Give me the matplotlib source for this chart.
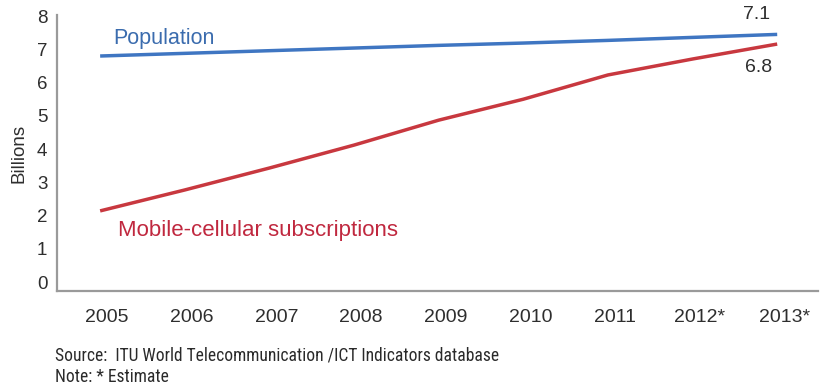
import matplotlib
matplotlib.use("Agg")
import matplotlib.pyplot as plt
import matplotlib.transforms as mtransforms
from matplotlib import font_manager

installed = {f.name for f in font_manager.fontManager.ttflist}

def pick(names):
    return [n for n in names if n in installed] + ['DejaVu Sans']

plt.rcParams['font.family'] = pick(['Liberation Sans', 'Arimo'])

# values (billions)
years = [2005, 2006, 2007, 2008, 2009, 2010, 2011, 2012, 2013]
year_labels = ['2005', '2006', '2007', '2008', '2009', '2010', '2011', '2012*', '2013*']
population = [6.80, 6.88, 6.96, 7.04, 7.12, 7.19, 7.27, 7.36, 7.45]
mobile = [2.14, 2.77, 3.43, 4.12, 4.87, 5.50, 6.23, 6.71, 7.16]
y_ticks = [0, 1, 2, 3, 4, 5, 6, 7, 8]

BLUE = '#3f76c2'
RED = '#c8383f'
TEXT = '#2e2e2e'
SPINE = '#9a9a9a'

fig = plt.figure(figsize=(8.27, 3.88), dpi=100)
ax = fig.add_axes([0.0689, 0.25, 0.92, 0.711])

ax.plot(years, population, color=BLUE, lw=2.5, solid_capstyle='butt')
ax.plot(years, mobile, color=RED, lw=2.5, solid_capstyle='butt')

ax.set_xlim(2004.49, 2013.48)
ax.set_ylim(-0.27, 8.03)
ax.set_xticks(years)
ax.set_xticklabels(year_labels)
ax.set_yticks(y_ticks)
ax.tick_params(axis='x', length=0, pad=13, labelsize=14, colors=TEXT)
ax.tick_params(axis='y', length=0, pad=7, labelsize=13.5, colors=TEXT)

# year labels sit a little right of the data points in the original
shift = mtransforms.ScaledTranslation(7 / 100, 0, fig.dpi_scale_trans)
for lbl in ax.get_xticklabels():
    lbl.set_transform(lbl.get_transform() + shift)

for side in ['top', 'right']:
    ax.spines[side].set_visible(False)
for side in ['left', 'bottom']:
    ax.spines[side].set_color(SPINE)
    ax.spines[side].set_linewidth(1.6)

ax.set_ylabel('Billions', fontsize=13.5, color=TEXT, labelpad=7)

# series labels
ax.text(2005.15, 7.0, 'Population', color='#3b6cae', fontsize=15.5,
        ha='left', va='bottom')
ax.text(2005.21, 1.56, 'Mobile-cellular subscriptions', color='#c0283f',
        fontsize=16, ha='left', va='center')
ax.text(years[-1] - 0.24, 8.06, '7.1', color=TEXT,
        fontsize=14, ha='center', va='center')
ax.text(years[-1] - 0.22, 6.44, '6.8', color=TEXT,
        fontsize=14, ha='center', va='center')

# source notes, condensed face; size fitted to the width of the original line
narrow = pick(['Liberation Sans Narrow', 'DejaVu Sans Condensed', 'Roboto Condensed'])
src = fig.text(55 / 827, 1 - 355 / 388, 'Source:  ITU World Telecommunication /ICT Indicators database',
               family=narrow, fontstretch='condensed', fontsize=12.5,
               color='#2a2a2a', va='center', ha='left')
note = fig.text(55 / 827, 1 - 377 / 388, 'Note: * Estimate',
                family=narrow, fontstretch='condensed', fontsize=12.5,
                color='#2a2a2a', va='center', ha='left')
renderer = fig.canvas.get_renderer()
w = src.get_window_extent(renderer).width
size = min(14.5, 12.5 * 445 / w)
src.set_fontsize(size)
note.set_fontsize(size)

fig.savefig('out.png', dpi=100)
